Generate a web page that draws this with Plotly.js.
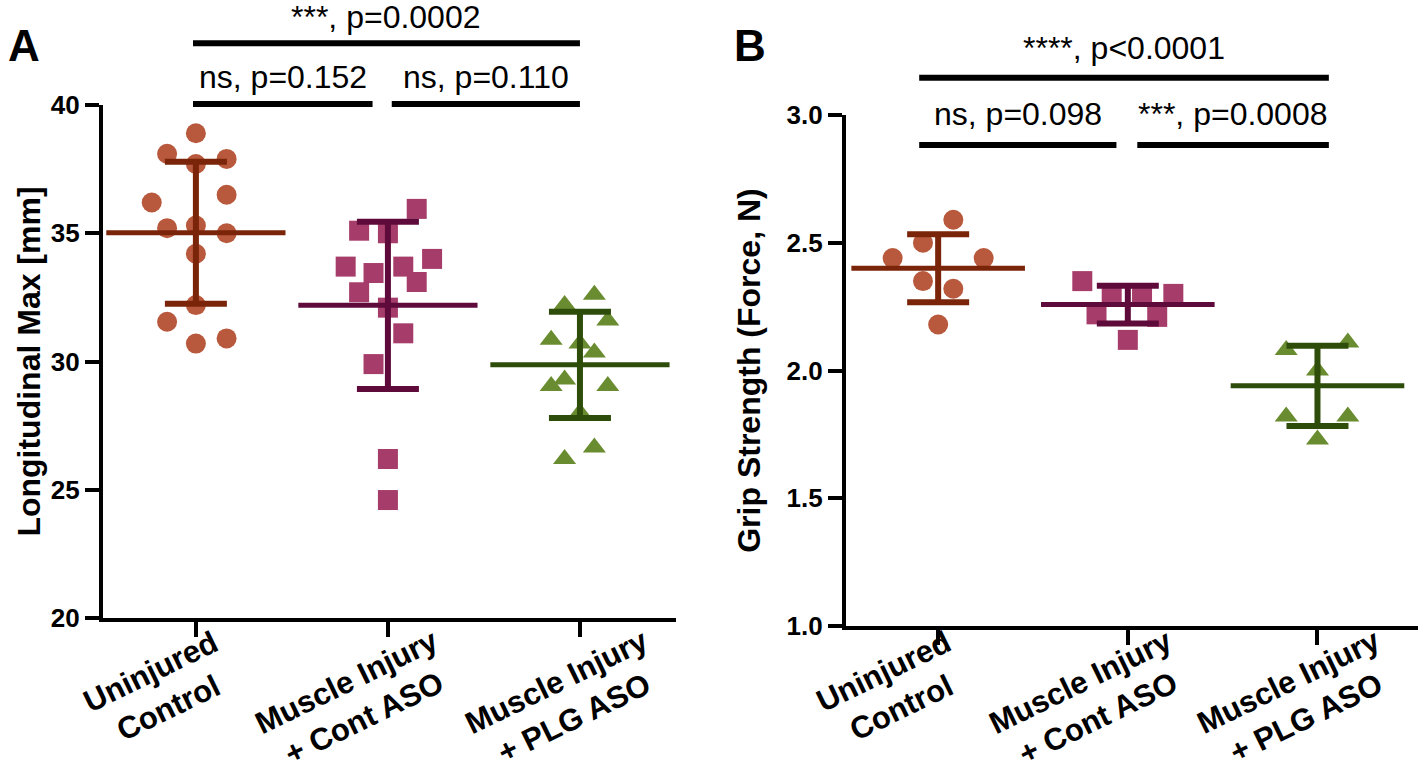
<!DOCTYPE html>
<html>
<head>
<meta charset="utf-8">
<script src="https://cdn.plot.ly/plotly-3.0.1.min.js"></script>
<style>
  html, body { margin: 0; padding: 0; background: #ffffff; }
  #chart { width: 1418px; height: 771px; }
</style>
</head>
<body>
<div id="chart"></div>
<script>
// Group labels (shared by both panels)
const groupLabels = ['Uninjured<br>Control', 'Muscle Injury<br>+ Cont ASO', 'Muscle Injury<br>+ PLG ASO'];

// Panel A: Longitudinal Max [mm]
const aCtrlVals = [38.9, 38.1, 37.9, 37.7, 36.2, 36.5, 35.2, 35.3, 35.0, 34.2, 32.2, 31.55, 30.7, 30.9];
const aCtrlJit  = [0, -0.15, 0.16, 0, -0.23, 0.16, -0.15, 0, 0.16, 0, 0, -0.15, 0, 0.16];
const aContVals = [35.95, 35.1, 35.0, 33.7, 34.0, 33.45, 33.7, 32.7, 33.1, 32.1, 31.1, 29.9, 26.2, 24.6];
const aContJit  = [0.15, -0.15, 0, -0.22, 0.23, -0.075, 0.08, -0.15, 0.15, 0, 0.08, -0.075, 0, 0];
const aPlgVals  = [32.6, 32.2, 31.6, 30.85, 30.7, 30.35, 29.3, 29.05, 29.05, 28.0, 26.65, 26.2];
const aPlgJit   = [0.075, -0.08, 0.145, -0.15, 0, 0.075, -0.08, -0.15, 0.145, 0, 0.075, -0.08];
const aMeans = [35.02, 32.19, 29.87];
const aSD    = [2.77, 3.26, 2.07];

// Panel B: Grip Strength (Force, N)
const bCtrlVals = [2.59, 2.50, 2.44, 2.44, 2.35, 2.32, 2.18];
const bCtrlJit  = [0.08, -0.08, -0.24, 0.24, -0.08, 0.08, 0];
const bContVals = [2.35, 2.29, 2.29, 2.30, 2.22, 2.21, 2.12];
const bContJit  = [-0.24, -0.085, 0.075, 0.24, -0.165, 0.155, 0];
const bPlgVals  = [2.11, 2.08, 2.00, 1.82, 1.82, 1.73];
const bPlgJit   = [0.16, -0.165, 0, -0.165, 0.16, 0];
const bMeans = [2.40, 2.258, 1.94];
const bSD    = [0.133, 0.074, 0.157];

// Significance brackets: [from, to, label]
const aBrackets = [[-0.015, 2.0, '***, p=0.0002'], [-0.015, 0.92, 'ns, p=0.152'], [1.02, 2.0, 'ns, p=0.110']];
const bBrackets = [[-0.1, 2.06, '****, p<0.0001'], [-0.1, 0.94, 'ns, p=0.098'], [1.05, 2.06, '***, p=0.0008']];

const FONT = 'Liberation Sans, Arial, sans-serif';
const fill = ['#b8583c', '#a63c6a', '#6a8c30'];
const dark = ['#7a240a', '#5e0b3b', '#2e4d0a'];
const symbols = ['circle', 'square', 'triangle-up'];

function points(vals, jit, g, xa, ya) {
    return {
        x: vals.map((v, i) => g + jit[i]),
        y: vals,
        xaxis: xa, yaxis: ya,
        type: 'scatter', mode: 'markers',
        marker: { symbol: symbols[g], size: 20, color: fill[g] },
        hoverinfo: 'y', showlegend: false
    };
}

function meanSD(means, sd, g, xa, ya, w) {
    return {
        x: [g], y: [means[g]],
        xaxis: xa, yaxis: ya,
        type: 'scatter', mode: 'markers',
        marker: { symbol: 'line-ew', size: w, line: { color: dark[g], width: 5 } },
        error_y: { type: 'data', array: [sd[g]], visible: true, color: dark[g], thickness: 6, width: 31 },
        hoverinfo: 'y', showlegend: false
    };
}

const data = [
    points(aCtrlVals, aCtrlJit, 0, 'x', 'y'),
    points(aContVals, aContJit, 1, 'x', 'y'),
    points(aPlgVals, aPlgJit, 2, 'x', 'y'),
    points(bCtrlVals, bCtrlJit, 0, 'x2', 'y2'),
    points(bContVals, bContJit, 1, 'x2', 'y2'),
    points(bPlgVals, bPlgJit, 2, 'x2', 'y2')
];
for (let g = 0; g < 3; g++) {
    data.push(meanSD(aMeans, aSD, g, 'x', 'y', 128));
    data.push(meanSD(bMeans, bSD, g, 'x2', 'y2', 124));
}

function xAxis(domain, range, anchor) {
    return {
        domain: domain, range: range, anchor: anchor,
        tickvals: [0, 1, 2], showticklabels: false,
        showline: true, linewidth: 4, linecolor: '#000',
        ticks: 'outside', ticklen: 15, tickwidth: 4, tickcolor: '#000',
        showgrid: false, zeroline: false, fixedrange: true
    };
}

function yAxis(domain, range, tickvals, ticktext, title, anchor, standoff) {
    return {
        domain: domain, range: range, anchor: anchor,
        tickvals: tickvals, ticktext: ticktext,
        tickfont: { family: FONT, size: 26, weight: 'bold', color: '#000' },
        title: { text: title, font: { family: FONT, size: 32, weight: 'bold', color: '#000' }, standoff: standoff },
        showline: true, linewidth: 4, linecolor: '#000',
        ticks: 'outside', ticklen: 14, tickwidth: 4, tickcolor: '#000',
        showgrid: false, zeroline: false, fixedrange: true
    };
}

const shapes = [];
const annotations = [];
function addBrackets(list, xref, levels, textLevels) {
    list.forEach((b, i) => {
        shapes.push({
            type: 'line', xref: xref, yref: 'paper',
            x0: b[0], x1: b[1], y0: levels[i], y1: levels[i],
            line: { color: '#000', width: 6 }
        });
        annotations.push({
            xref: xref, yref: 'paper', x: (b[0] + b[1]) / 2, y: textLevels[i],
            text: b[2], showarrow: false, yanchor: 'bottom', borderpad: 0,
            font: { family: FONT, size: 32, color: '#000' }
        });
    });
}
addBrackets(aBrackets, 'x', [0.944, 0.865, 0.865], [0.953, 0.876, 0.876]);
addBrackets(bBrackets, 'x2', [0.899, 0.812, 0.812], [0.913, 0.828, 0.828]);

// Rotated category labels, centred lines like the original
function addGroupLabels(xref, shifts, levels) {
    groupLabels.forEach((lab, g) => {
        annotations.push({
            xref: xref, yref: 'paper', x: g, y: levels[g],
            xanchor: 'center', yanchor: 'middle', xshift: shifts[g],
            text: lab, textangle: -26, align: 'center', showarrow: false, borderpad: 0,
            font: { family: FONT, size: 31, weight: 'bold', color: '#000' }
        });
    });
}
addGroupLabels('x', [-36, -32, -14], [0.106, 0.093, 0.093]);
addGroupLabels('x2', [-46, -38, -20], [0.106, 0.093, 0.093]);

annotations.push({ xref: 'paper', yref: 'paper', x: 0.004, y: 0.975, xanchor: 'left', yanchor: 'top',
    text: 'A', showarrow: false, font: { family: FONT, size: 44, weight: 'bold', color: '#000' } });
annotations.push({ xref: 'paper', yref: 'paper', x: 0.516, y: 0.975, xanchor: 'left', yanchor: 'top',
    text: 'B', showarrow: false, font: { family: FONT, size: 44, weight: 'bold', color: '#000' } });

const layout = {
    width: 1418, height: 771,
    margin: { l: 0, r: 0, t: 0, b: 0 },
    paper_bgcolor: '#ffffff', plot_bgcolor: '#ffffff',
    showlegend: false,
    xaxis: xAxis([0.0726, 0.4767], [-0.484, 2.5], 'y'),
    yaxis: yAxis([0.1984, 0.8638], [20, 40], [20, 25, 30, 35, 40], ['20', '25', '30', '35', '40'], 'Longitudinal Max [mm]', 'x', 2),
    xaxis2: xAxis([0.5966, 1.0], [-0.486, 2.53], 'y2'),
    yaxis2: yAxis([0.188, 0.8508], [1.0, 3.0], [1.0, 1.5, 2.0, 2.5, 3.0], ['1.0', '1.5', '2.0', '2.5', '3.0'], 'Grip Strength (Force, N)', 'x2', 17),
    shapes: shapes,
    annotations: annotations
};

Plotly.newPlot('chart', data, layout, { displayModeBar: false, staticPlot: true });
</script>
</body>
</html>
